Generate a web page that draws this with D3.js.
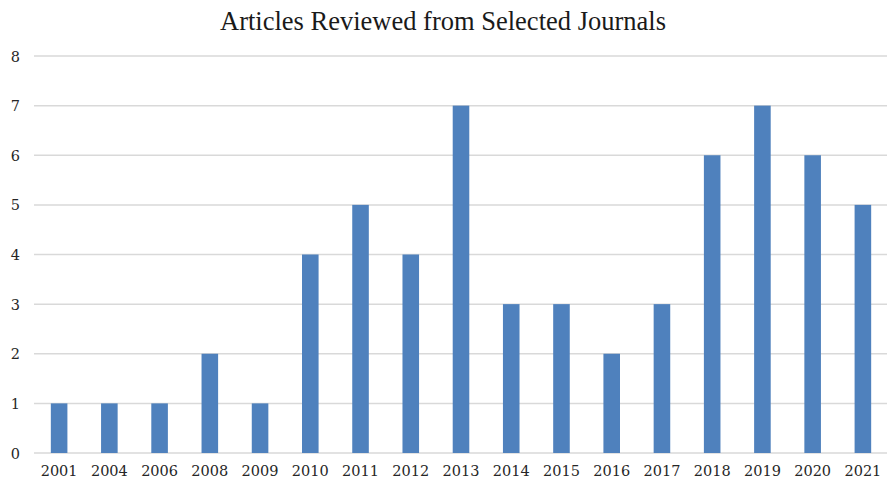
<!DOCTYPE html>
<html>
<head>
<meta charset="utf-8">
<script src="https://cdn.jsdelivr.net/npm/d3@7"></script>
<style>
  body { margin: 0; background: #fff; }
  svg { display: block; }
  .tick text { font-family: "DejaVu Serif", serif; fill: #262626; }
</style>
</head>
<body>
<div id="chart"></div>
<script>
var years = ["2001","2004","2006","2008","2009","2010","2011","2012","2013","2014","2015","2016","2017","2018","2019","2020","2021"]
var articles = [1,1,1,2,1,4,5,4,7,3,3,2,3,6,7,6,5]
var yTicks = [0,1,2,3,4,5,6,7,8]

var W = 887, H = 486
var margin = {top: 56, right: 0, bottom: 33, left: 34}

var svg = d3.select('#chart').append('svg')
    .attr('width', W)
    .attr('height', H)

svg.append('text')
    .attr('x', 443)
    .attr('y', 30)
    .attr('text-anchor', 'middle')
    .style('font-family', '"Liberation Serif", serif')
    .style('font-size', '26.5px')
    .style('fill', '#1a1a1a')
    .text('Articles Reviewed from Selected Journals')

var x = d3.scaleBand()
    .domain(years)
    .range([margin.left, 888])
    .paddingInner(0.67)
    .paddingOuter(0.335)

var y = d3.scaleLinear()
    .domain([0, 8])
    .range([H - margin.bottom, margin.top])

// gridlines
svg.append('g')
    .selectAll('line')
    .data(yTicks)
    .enter().append('line')
    .attr('x1', margin.left)
    .attr('x2', W)
    .attr('y1', function(d){ return y(d) })
    .attr('y2', function(d){ return y(d) })
    .attr('stroke', '#d9d9d9')
    .attr('stroke-width', 1.5)

// bars
svg.append('g')
    .selectAll('rect')
    .data(articles)
    .enter().append('rect')
    .attr('x', function(d, i){ return x(years[i]) })
    .attr('y', function(d){ return y(d) })
    .attr('width', x.bandwidth())
    .attr('height', function(d){ return y(0) - y(d) })
    .attr('fill', '#4f81bd')

// y axis labels
var yAxis = svg.append('g')
    .attr('transform', 'translate(' + (margin.left - 14) + ',0)')
    .call(d3.axisLeft(y).tickValues(yTicks).tickSize(0).tickPadding(0))
yAxis.select('.domain').remove()
yAxis.selectAll('text').style('font-size', '14.5px').attr('dy', '0.35em')

// x axis labels
var xAxis = svg.append('g')
    .attr('transform', 'translate(0,' + y(0) + ')')
    .call(d3.axisBottom(x).tickSize(0).tickPadding(13))
xAxis.select('.domain').remove()
xAxis.selectAll('text').style('font-size', '14.5px')
</script>
</body>
</html>
